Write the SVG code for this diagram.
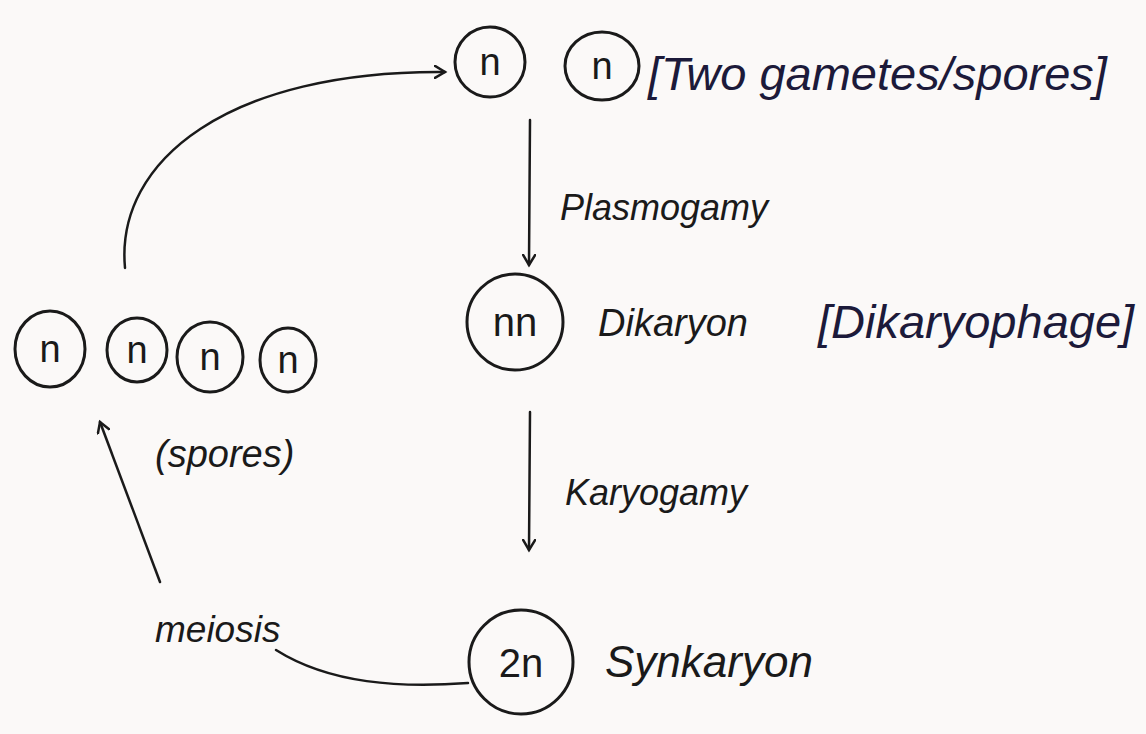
<svg xmlns="http://www.w3.org/2000/svg" width="1146" height="734" viewBox="0 0 1146 734">
<style>
.c{fill:none;stroke:#1a1a1a;stroke-width:3}
.l{fill:none;stroke:#1a1a1a;stroke-width:2.5;stroke-linecap:round}
.t{font-family:"Liberation Sans",Arial,sans-serif;font-style:italic;fill:#1a1a1a}
.b{fill:#1c1a3a}
.m{font-family:"Liberation Sans",Arial,sans-serif;fill:#1a1a1a;text-anchor:middle}
</style>
<defs>
<marker id="ah" markerWidth="14" markerHeight="14" refX="11" refY="7" orient="auto" markerUnits="userSpaceOnUse">
<path d="M1,1 L11,7 L1,13" fill="none" stroke="#1a1a1a" stroke-width="2.5" stroke-linecap="round"/>
</marker>
</defs>
<rect width="1146" height="734" fill="#fbf9f8"/>
<g id="connectors">
<path class="l" d="M125,268 C115,160 230,70 445,72" marker-end="url(#ah)"/>
<path class="l" d="M530,120 L529,265" marker-end="url(#ah)"/>
<path class="l" d="M530,412 L529,550" marker-end="url(#ah)"/>
<path class="l" d="M468,683 C400,688 330,684 276,650"/>
<path class="l" d="M160,582 L100,422" marker-end="url(#ah)"/>
</g>
<g id="gamete1"><ellipse class="c" cx="490" cy="62" rx="35" ry="35"/><text class="m" x="490" y="75" font-size="38">n</text></g>
<g id="gamete2"><ellipse class="c" cx="602" cy="66" rx="37" ry="34"/><text class="m" x="602" y="79" font-size="38">n</text></g>
<g id="gametes-label"><text class="t b" x="648" y="90" font-size="47">[Two gametes/spores]</text></g>
<g id="plasmogamy-label"><text class="t" x="560" y="220" font-size="36">Plasmogamy</text></g>
<g id="dikaryon"><circle class="c" cx="515" cy="322" r="48"/><text class="m" x="515" y="336" font-size="40">nn</text>
<text class="t" x="598" y="336" font-size="38">Dikaryon</text></g>
<g id="dikaryophage-label"><text class="t b" x="818" y="338" font-size="47">[Dikaryophage]</text></g>
<g id="karyogamy-label"><text class="t" x="565" y="505" font-size="36">Karyogamy</text></g>
<g id="synkaryon"><circle class="c" cx="521" cy="662" r="52"/><text class="m" x="521" y="677" font-size="40">2n</text>
<text class="t" x="605" y="677" font-size="44">Synkaryon</text></g>
<g id="meiosis-label"><text class="t" x="155" y="642" font-size="37">meiosis</text></g>
<g id="spores">
<ellipse class="c" cx="50" cy="349" rx="35" ry="38"/><text class="m" x="50" y="362" font-size="38">n</text>
<ellipse class="c" cx="137" cy="350" rx="30" ry="32"/><text class="m" x="137" y="363" font-size="38">n</text>
<ellipse class="c" cx="210" cy="357" rx="33" ry="35"/><text class="m" x="210" y="370" font-size="38">n</text>
<ellipse class="c" cx="288" cy="360" rx="28" ry="32"/><text class="m" x="288" y="373" font-size="38">n</text>
<text class="t" x="155" y="467" font-size="38">(spores)</text>
</g>
</svg>
